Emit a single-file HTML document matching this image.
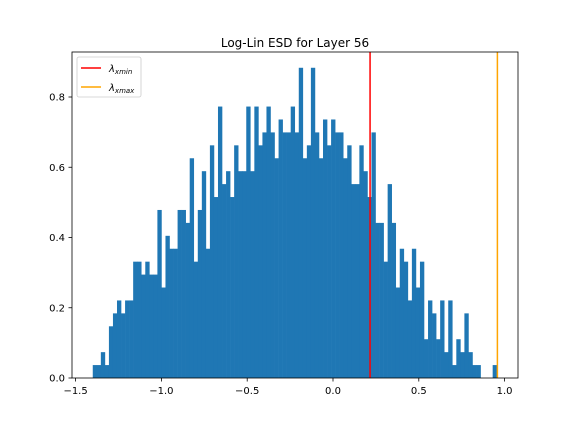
<!DOCTYPE html>
<html><head><meta charset="utf-8"><style>
body{margin:0;background:#fff}
svg text{font-family:"DejaVu Sans","Liberation Sans",sans-serif;fill:#000}
</style></head><body>
<svg id="c" width="576" height="432" xmlns="http://www.w3.org/2000/svg">
<rect width="576" height="432" fill="#fff"/>
<g id="bars"></g>
<g id="lines"></g>
<rect x="72" y="52" width="446" height="326" fill="none" stroke="#000" stroke-width="0.8"/>
<g id="ticks"></g>
<text x="295" y="47" font-size="12" text-anchor="middle">Log-Lin ESD for Layer 56</text>
<g>
<rect x="77" y="57" width="64" height="40" rx="2" fill="#fff" stroke="#ccc" stroke-width="0.8"/>
<line x1="81" y1="68" x2="101" y2="68" stroke="red" stroke-width="1.5"/>
<text x="109" y="72" font-size="10" font-style="italic">λ<tspan font-size="7" dy="2">xmin</tspan></text>
<line x1="81" y1="87" x2="101" y2="87" stroke="orange" stroke-width="1.5"/>
<text x="109" y="91" font-size="10" font-style="italic">λ<tspan font-size="7" dy="2">xmax</tspan></text>
</g>
</svg>
<script>
const counts=[1,1,2,1,4,5,6,5,6,6,9,9,8,9,8,8,13,7,11,10,10,13,13,12,17,9,13,16,10,18,14,21,15,16,14,18,16,16,21,16,21,18,19,21,19,17,20,19,19,21,19,24,17,18,24,19,17,20,18,20,19,19,17,18,15,15,18,16,14,19,12,12,9,15,12,7,10,9,6,10,7,9,3,6,5,3,6,2,6,1,3,2,5,2,1,1,0,0,0,1];
const binStart=-1.40, binEnd=0.954;
const unit=0.0368;
const xmin=0.216, xmax=0.958;
const xTicks=[-1.5,-1.0,-0.5,0.0,0.5,1.0];
const xTickLabels=["−1.5","−1.0","−0.5","0.0","0.5","1.0"];
const yTicks=[0,0.2,0.4,0.6,0.8];
const yTickLabels=["0.0","0.2","0.4","0.6","0.8"];
const NS="http://www.w3.org/2000/svg";
const X=v=>333+171.6*v, Y=v=>378-351.25*v;
function mk(t,a,p){const e=document.createElementNS(NS,t);for(const k in a)e.setAttribute(k,a[k]);p.appendChild(e);return e;}
const bars=document.getElementById('bars');
const w=(binEnd-binStart)/counts.length;
counts.forEach((c,i)=>{if(!c)return;const x0=X(binStart+i*w),x1=X(binStart+(i+1)*w),y=Y(c*unit);
const r=mk('rect',{x:x0,y:y,width:x1-x0+0.3,height:378-y,fill:'#1f77b4'},bars);

});
const lines=document.getElementById('lines');
const l1=mk('line',{x1:X(xmin),x2:X(xmin),y1:52,y2:378,stroke:'red','stroke-width':1.5},lines);


const l2=mk('line',{x1:X(xmax),x2:X(xmax),y1:52,y2:378,stroke:'orange','stroke-width':1.5},lines);


const tk=document.getElementById('ticks');
xTicks.forEach((v,i)=>{mk('line',{x1:X(v),x2:X(v),y1:378,y2:381.5,stroke:'#000','stroke-width':0.8},tk);
const t=mk('text',{x:X(v),y:394,'font-size':10,'text-anchor':'middle'},tk);t.textContent=xTickLabels[i];

});
yTicks.forEach((v,i)=>{mk('line',{x1:68.5,x2:72,y1:Y(v),y2:Y(v),stroke:'#000','stroke-width':0.8},tk);
const t=mk('text',{x:65,y:Y(v)+3.5,'font-size':10,'text-anchor':'end'},tk);t.textContent=yTickLabels[i];

});
</script>
</body></html>
